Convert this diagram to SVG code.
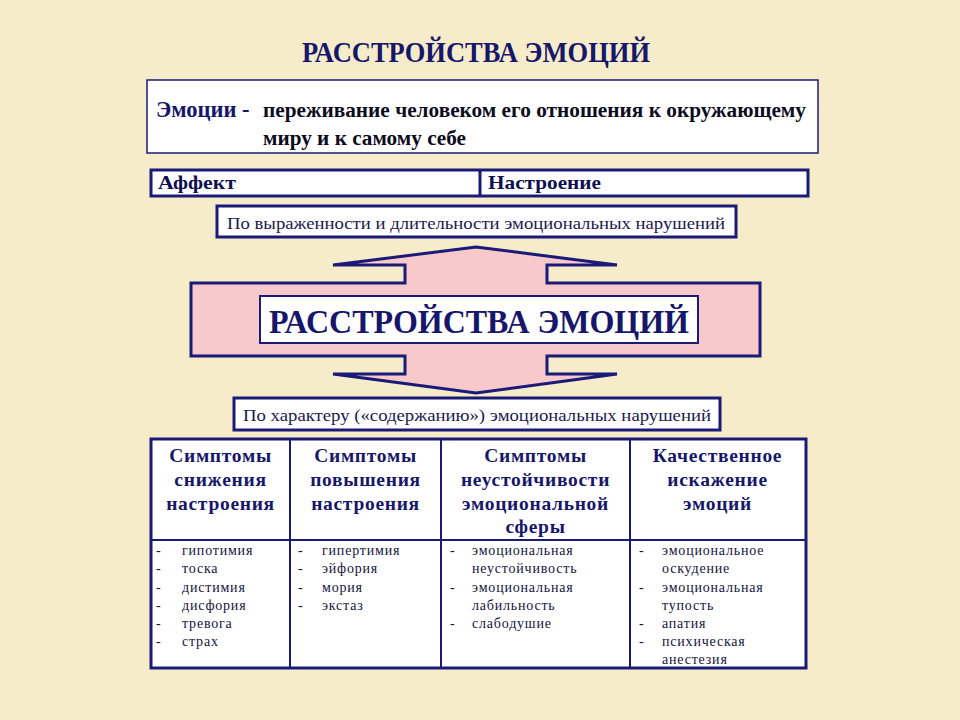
<svg xmlns="http://www.w3.org/2000/svg" width="960" height="720" viewBox="0 0 960 720">
<style>
.nv{stroke:#1a1a78;fill:none}
.bx{fill:#ffffff;stroke:#1a1a78}
.t{font-family:"Liberation Serif","Times New Roman",serif}
.b{font-weight:bold}
.navy{fill:#16166a}
.blk{fill:#0c0c20}
.hd{font-family:"Liberation Serif","Times New Roman",serif;font-weight:bold;font-size:19.5px;fill:#16166a;text-anchor:middle;letter-spacing:0.7px}
.bd{font-family:"Liberation Serif","Times New Roman",serif;font-size:14px;fill:#141440;letter-spacing:0.8px}
</style>
<rect width="960" height="720" fill="#f6ecca"/>

<g id="title">
<text class="t b navy" x="476" y="62" font-size="29" text-anchor="middle" textLength="348" lengthAdjust="spacingAndGlyphs">РАССТРОЙСТВА ЭМОЦИЙ</text>
</g>

<g id="definition">
<rect class="bx" x="147" y="80" width="671" height="73" stroke-width="1.5"/>
<text class="t b navy" x="156" y="117" font-size="22.5">Эмоции -</text>
<text class="t b blk" x="263" y="117" font-size="20" textLength="543" lengthAdjust="spacingAndGlyphs">переживание человеком его отношения к окружающему</text>
<text class="t b blk" x="263" y="145" font-size="20" textLength="203" lengthAdjust="spacingAndGlyphs">миру и к самому себе</text>
</g>

<g id="affect-mood">
<rect class="bx" x="151" y="170" width="657" height="26" stroke-width="3"/>
<line class="nv" x1="480" y1="170" x2="480" y2="196" stroke-width="3"/>
<text class="t b" x="158" y="189" font-size="19" fill="#101050" textLength="78" lengthAdjust="spacingAndGlyphs">Аффект</text>
<text class="t b" x="488" y="189" font-size="19" fill="#101050" textLength="113" lengthAdjust="spacingAndGlyphs">Настроение</text>
</g>

<g id="by-severity">
<rect class="bx" x="217" y="206" width="519" height="31" stroke-width="3"/>
<text class="t" x="476" y="229" font-size="17" fill="#1a1a50" text-anchor="middle" textLength="498" lengthAdjust="spacingAndGlyphs">По выраженности и длительности эмоциональных нарушений</text>
</g>

<g id="central-arrow">
<path d="M476,247 L617,265 L547,265 L547,283 L760,283 L760,356 L547,356 L547,374 L617,374 L476,393 L333,374 L405,374 L405,356 L191,356 L191,283 L405,283 L405,265 L333,265 Z" fill="#f8c9cb" stroke="#1a1a78" stroke-width="3" stroke-linejoin="miter"/>
<rect class="bx" x="260" y="296" width="438" height="47" stroke-width="2"/>
<text class="t b navy" x="479" y="333" font-size="34" text-anchor="middle" textLength="420" lengthAdjust="spacingAndGlyphs">РАССТРОЙСТВА ЭМОЦИЙ</text>
</g>

<g id="by-content">
<rect class="bx" x="234" y="398" width="486" height="32" stroke-width="3"/>
<text class="t" x="477" y="421" font-size="17" fill="#1a1a50" text-anchor="middle" textLength="468" lengthAdjust="spacingAndGlyphs">По характеру («содержанию») эмоциональных нарушений</text>
</g>

<g id="connectors"></g>

<g id="table">
<rect class="bx" x="151" y="439" width="655" height="229" stroke-width="3"/>
<line class="nv" x1="151" y1="540" x2="806" y2="540" stroke-width="2"/>
<line class="nv" x1="290" y1="439" x2="290" y2="668" stroke-width="2"/>
<line class="nv" x1="441" y1="439" x2="441" y2="668" stroke-width="2"/>
<line class="nv" x1="630" y1="439" x2="630" y2="668" stroke-width="2"/>

<g id="col1">
<text class="hd" x="220.5" y="462">Симптомы</text>
<text class="hd" x="220.5" y="486">снижения</text>
<text class="hd" x="220.5" y="510">настроения</text>
<text class="bd" x="156" y="555">-</text><text class="bd" x="182" y="555">гипотимия</text>
<text class="bd" x="156" y="573">-</text><text class="bd" x="182" y="573">тоска</text>
<text class="bd" x="156" y="592">-</text><text class="bd" x="182" y="592">дистимия</text>
<text class="bd" x="156" y="610">-</text><text class="bd" x="182" y="610">дисфория</text>
<text class="bd" x="156" y="628">-</text><text class="bd" x="182" y="628">тревога</text>
<text class="bd" x="156" y="646">-</text><text class="bd" x="182" y="646">страх</text>
</g>
<g id="col2">
<text class="hd" x="365.5" y="462">Симптомы</text>
<text class="hd" x="365.5" y="486">повышения</text>
<text class="hd" x="365.5" y="510">настроения</text>
<text class="bd" x="298" y="555">-</text><text class="bd" x="322" y="555">гипертимия</text>
<text class="bd" x="298" y="573">-</text><text class="bd" x="322" y="573">эйфория</text>
<text class="bd" x="298" y="592">-</text><text class="bd" x="322" y="592">мория</text>
<text class="bd" x="298" y="610">-</text><text class="bd" x="322" y="610">экстаз</text>
</g>
<g id="col3">
<text class="hd" x="535.5" y="462">Симптомы</text>
<text class="hd" x="535.5" y="486">неустойчивости</text>
<text class="hd" x="535.5" y="510">эмоциональной</text>
<text class="hd" x="535.5" y="533">сферы</text>
<text class="bd" x="450" y="555">-</text><text class="bd" x="472" y="555">эмоциональная</text>
<text class="bd" x="472" y="573">неустойчивость</text>
<text class="bd" x="450" y="592">-</text><text class="bd" x="472" y="592">эмоциональная</text>
<text class="bd" x="472" y="610">лабильность</text>
<text class="bd" x="450" y="628">-</text><text class="bd" x="472" y="628">слабодушие</text>
</g>
<g id="col4">
<text class="hd" x="717.5" y="462">Качественное</text>
<text class="hd" x="717.5" y="486">искажение</text>
<text class="hd" x="717.5" y="510">эмоций</text>
<text class="bd" x="639" y="555">-</text><text class="bd" x="662" y="555">эмоциональное</text>
<text class="bd" x="662" y="573">оскудение</text>
<text class="bd" x="639" y="592">-</text><text class="bd" x="662" y="592">эмоциональная</text>
<text class="bd" x="662" y="610">тупость</text>
<text class="bd" x="639" y="628">-</text><text class="bd" x="662" y="628">апатия</text>
<text class="bd" x="639" y="646">-</text><text class="bd" x="662" y="646">психическая</text>
<text class="bd" x="662" y="664">анестезия</text>
</g>
</g>
</svg>
